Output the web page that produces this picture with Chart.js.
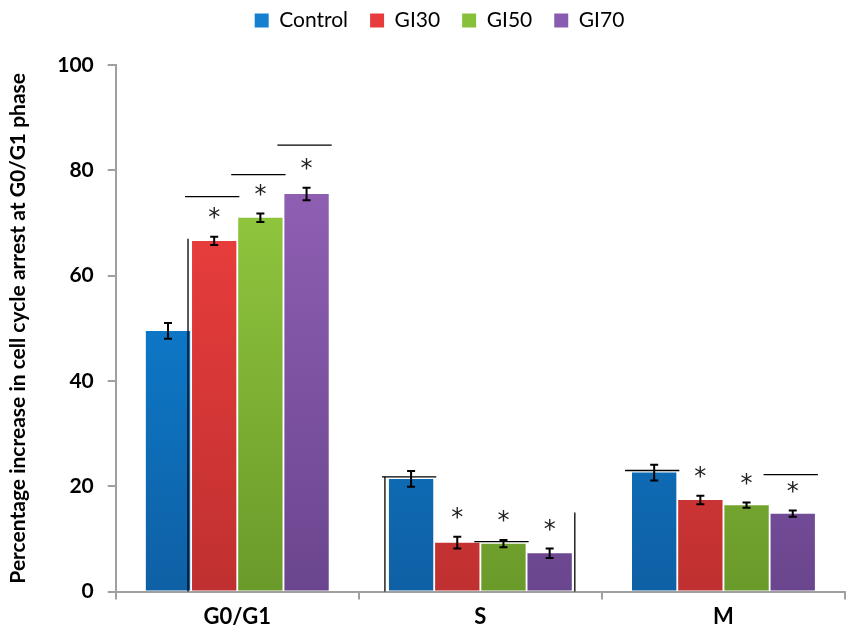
<!DOCTYPE html>
<html>
<head>
<meta charset="utf-8">
<script src="https://cdn.jsdelivr.net/npm/chart.js@4/dist/chart.umd.min.js"></script>
<style>
  html, body { margin: 0; padding: 0; background: #fff; }
  #wrap { width: 851px; height: 636px; }
</style>
</head>
<body>
<div id="wrap"><canvas id="cellCycleChart" width="851" height="636"></canvas></div>
<script>
// phases on the x axis
const phases = ['G0/G1', 'S', 'M'];

// mean % per group, one value per phase
const control = [49.5, 21.4, 22.6];
const gi30 = [66.6, 9.3, 17.4];
const gi50 = [71.0, 9.1, 16.4];
const gi70 = [75.5, 7.3, 14.8];

// error bar half-heights
const controlErr = [1.5, 1.5, 1.5];
const gi30Err = [0.8, 1.1, 0.8];
const gi50Err = [0.8, 0.7, 0.5];
const gi70Err = [1.2, 0.9, 0.6];

// significance marks (asterisks) per group
const controlSig = [false, false, false];
const gi30Sig = [true, true, true];
const gi50Sig = [true, true, true];
const gi70Sig = [true, true, true];

// leftover bracket lines of the original figure: [phase, group, value]
const hLines = [[0, 1, 75], [0, 2, 79.2], [0, 3, 84.8], [1, 0, 21.8], [1, 2, 9.5], [2, 0, 23], [2, 3, 22.2]];
const vLines = [[0, 1, 67], [1, 0, 21.8], [1, 4, 15]];

const yTicks = [0, 20, 40, 60, 80, 100];

function barFill(top, bottom) {
  return (ctx) => {
    const area = ctx.chart.chartArea;
    if (!area) return top;
    const g = ctx.chart.ctx.createLinearGradient(0, area.top, 0, area.bottom);
    g.addColorStop(0, top);
    g.addColorStop(1, bottom);
    return g;
  };
}

// push the plot down under the legend and nudge the legend right
const legendGap = {
  id: 'legendGap',
  beforeInit(chart) {
    const fit = chart.legend.fit;
    chart.legend.fit = function () {
      fit.call(this);
      this.height += 24;
    };
  },
  afterLayout(chart) {
    chart.legend.left += 15;
    chart.legend.right += 15;
  }
};

const errorBars = {
  id: 'errorBars',
  afterDatasetsDraw(chart) {
    const { ctx, scales: { y } } = chart;
    ctx.save();
    chart.data.datasets.forEach((ds, di) => {
      const meta = chart.getDatasetMeta(di);
      meta.data.forEach((bar, i) => {
        const v = ds.data[i], e = ds.err[i];
        const yHi = y.getPixelForValue(v + e), yLo = y.getPixelForValue(v - e);
        ctx.strokeStyle = '#000';
        ctx.lineWidth = 2;
        ctx.beginPath();
        ctx.moveTo(bar.x, yHi); ctx.lineTo(bar.x, yLo);
        ctx.moveTo(bar.x - 4, yHi); ctx.lineTo(bar.x + 4, yHi);
        ctx.moveTo(bar.x - 4, yLo); ctx.lineTo(bar.x + 4, yLo);
        ctx.stroke();
        if (ds.sig[i]) {
          ctx.fillStyle = '#222';
          ctx.font = '24px "DejaVu Sans"';
          ctx.textAlign = 'center';
          ctx.textBaseline = 'middle';
          ctx.fillText('*', bar.x, yHi - 18);
        }
      });
    });
    // bracket remnants
    ctx.strokeStyle = '#000';
    ctx.lineWidth = 1.3;
    hLines.forEach(([p, g, val]) => {
      const bar = chart.getDatasetMeta(g).data[p];
      const py = y.getPixelForValue(val);
      ctx.beginPath();
      ctx.moveTo(bar.x - bar.width / 2 - 7, py);
      ctx.lineTo(bar.x + bar.width / 2 + 3, py);
      ctx.stroke();
    });
    vLines.forEach(([p, g, val]) => {
      let px;
      if (g < 4) {
        const bar = chart.getDatasetMeta(g).data[p];
        px = bar.x - bar.width / 2 - 4;
      } else {
        const bar = chart.getDatasetMeta(3).data[p];
        px = bar.x + bar.width / 2 + 3;
      }
      ctx.beginPath();
      ctx.moveTo(px, y.getPixelForValue(val));
      ctx.lineTo(px, y.getPixelForValue(0));
      ctx.stroke();
    });
    ctx.restore();
  }
};

new Chart('cellCycleChart', {
  type: 'bar',
  data: {
    labels: phases,
    datasets: [
      { label: 'Control', data: control, err: controlErr, sig: controlSig,
        backgroundColor: barFill('#0b8ee8', '#0f60a4'), legendColor: '#1580d0' },
      { label: 'GI30', data: gi30, err: gi30Err, sig: gi30Sig,
        backgroundColor: barFill('#fa4242', '#c03030'), legendColor: '#e83c3c' },
      { label: 'GI50', data: gi50, err: gi50Err, sig: gi50Sig,
        backgroundColor: barFill('#9ed544', '#6a9a2a'), legendColor: '#88c03c' },
      { label: 'GI70', data: gi70, err: gi70Err, sig: gi70Sig,
        backgroundColor: barFill('#9a66be', '#6a468e'), legendColor: '#8a5cb0' }
    ]
  },
  options: {
    responsive: false,
    animation: false,
    layout: { padding: { left: 4, right: 6, top: -12, bottom: 2 } },
    datasets: { bar: { categoryPercentage: 0.76, barPercentage: 0.96 } },
    plugins: {
      tooltip: { enabled: false },
      legend: {
        position: 'top',
        labels: {
          font: { family: 'Lato', size: 21 },
          color: '#000',
          boxWidth: 14,
          boxHeight: 14,
          padding: 22,
          generateLabels: (chart) => chart.data.datasets.map((ds, i) => ({
            text: ds.label, fillStyle: ds.legendColor, strokeStyle: ds.legendColor,
            lineWidth: 0, datasetIndex: i, fontColor: '#000'
          }))
        }
      }
    },
    scales: {
      x: {
        grid: { display: true, drawOnChartArea: false, offset: true, tickLength: 8, color: '#a0a0a0', lineWidth: 2 },
        border: { color: '#a0a0a0', width: 2 },
        ticks: { color: '#000', font: { family: 'Lato', size: 22, weight: 'bold' }, padding: 4 }
      },
      y: {
        min: 0, max: 100,
        afterBuildTicks: (axis) => { axis.ticks = yTicks.map(v => ({ value: v })); },
        grid: { display: true, drawOnChartArea: false, tickLength: 8, color: '#a0a0a0', lineWidth: 2 },
        border: { color: '#a0a0a0', width: 2 },
        ticks: { color: '#000', font: { family: 'Lato', size: 21, weight: 'bold' }, padding: 14 },
        title: {
          display: true,
          text: 'Percentage increase in cell cycle arrest at G0/G1 phase',
          color: '#000',
          font: { family: 'Lato', size: 21, weight: 'bold' },
          padding: { top: 2, bottom: 12 }
        }
      }
    }
  },
  plugins: [errorBars, legendGap]
});
</script>
</body>
</html>
